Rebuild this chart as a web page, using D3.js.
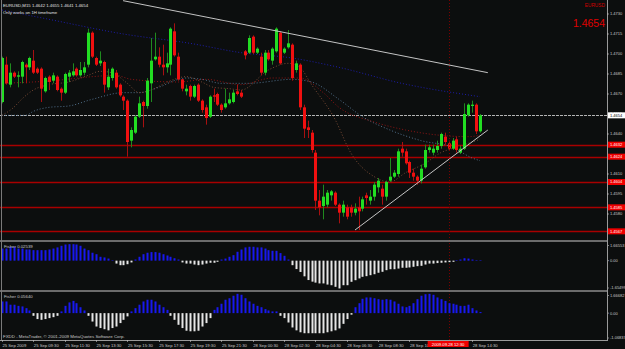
<!DOCTYPE html>
<html>
<head>
<meta charset="utf-8">
<script src="https://cdn.jsdelivr.net/npm/d3@7"></script>
<style>
  html, body { margin: 0; padding: 0; background: #0c0e0e; }
  svg { display: block; }
  text { font-family: "Liberation Sans", Arial, sans-serif; }
</style>
</head>
<body>
<svg width="625" height="349"></svg>
<script>
// котировки EURUSD M15, по одному значению на бар
const open = [1.4664,1.4692,1.4677,1.4686,1.4683,1.4683,1.4692,1.4690,1.4695,1.4689,
  1.4689,1.4672,1.4683,1.4680,1.4683,1.4674,1.4671,1.4683,1.4684,1.4689,
  1.4684,1.4686,1.4692,1.4716,1.4697,1.4693,1.4694,1.4675,1.4682,1.4686,
  1.4677,1.4668,1.4665,1.4635,1.4641,1.4653,1.4664,1.4661,1.4678,1.4696,
  1.4698,1.4692,1.4690,1.4692,1.4717,1.4698,1.4681,1.4672,1.4676,1.4668,
  1.4677,1.4665,1.4660,1.4653,1.4669,1.4670,1.4662,1.4660,1.4663,1.4664,
  1.4672,1.4671,1.4702,1.4701,1.4713,1.4701,1.4698,1.4686,1.4701,1.4695,
  1.4702,1.4716,1.4701,1.4705,1.4707,1.4688,1.4692,1.4660,1.4645,1.4641,
  1.4626,1.4590,1.4586,1.4587,1.4594,1.4596,1.4587,1.4581,1.4585,1.4585,
  1.4581,1.4585,1.4584,1.4594,1.4590,1.4593,1.4600,1.4599,1.4593,1.4605,
  1.4608,1.4610,1.4629,1.4627,1.4619,1.4611,1.4608,1.4605,1.4615,1.4628,
  1.4626,1.4628,1.4631,1.4638,1.4633,1.4629,1.4636,1.4626,1.4629,1.4654,
  1.4661,1.4662,1.4642];
const high = [1.4698,1.4698,1.4693,1.4687,1.4687,1.4695,1.4693,1.4698,1.4703,1.4690,
  1.4690,1.4683,1.4684,1.4686,1.4684,1.4675,1.4686,1.4688,1.4693,1.4690,
  1.4694,1.4694,1.4719,1.4717,1.4698,1.4702,1.4695,1.4689,1.4690,1.4688,
  1.4678,1.4669,1.4666,1.4645,1.4654,1.4668,1.4665,1.4682,1.4712,1.4716,
  1.4705,1.4707,1.4701,1.4720,1.4723,1.4701,1.4681,1.4677,1.4677,1.4677,
  1.4678,1.4666,1.4662,1.4669,1.4674,1.4671,1.4663,1.4674,1.4671,1.4673,
  1.4677,1.4673,1.4703,1.4714,1.4714,1.4705,1.4701,1.4703,1.4703,1.4705,
  1.4720,1.4717,1.4705,1.4718,1.4708,1.4695,1.4693,1.4662,1.4650,1.4643,
  1.4628,1.4598,1.4602,1.4598,1.4598,1.4597,1.4588,1.4590,1.4587,1.4587,
  1.4588,1.4593,1.4593,1.4596,1.4598,1.4604,1.4607,1.4602,1.4605,1.4622,
  1.4613,1.4629,1.4634,1.4629,1.4620,1.4614,1.4609,1.4617,1.4632,1.4632,
  1.4632,1.4635,1.4641,1.4641,1.4635,1.4637,1.4638,1.4631,1.4663,1.4663,
  1.4665,1.4663,1.4655];
const low = [1.4663,1.4677,1.4675,1.4682,1.4675,1.4678,1.4678,1.4688,1.4685,1.4685,
  1.4664,1.4671,1.4673,1.4678,1.4672,1.4665,1.4670,1.4679,1.4683,1.4683,
  1.4683,1.4684,1.4690,1.4697,1.4691,1.4691,1.4671,1.4673,1.4680,1.4674,
  1.4668,1.4658,1.4623,1.4630,1.4640,1.4652,1.4645,1.4659,1.4664,1.4695,
  1.4690,1.4684,1.4686,1.4684,1.4698,1.4680,1.4672,1.4669,1.4665,1.4667,
  1.4664,1.4656,1.4647,1.4652,1.4664,1.4661,1.4656,1.4659,1.4662,1.4663,
  1.4669,1.4667,1.4696,1.4700,1.4700,1.4700,1.4684,1.4684,1.4695,1.4692,
  1.4701,1.4692,1.4700,1.4704,1.4680,1.4686,1.4658,1.4637,1.4637,1.4626,
  1.4583,1.4579,1.4576,1.4585,1.4590,1.4586,1.4573,1.4578,1.4576,1.4578,
  1.4579,1.4568,1.4582,1.4587,1.4587,1.4590,1.4596,1.4587,1.4590,1.4604,
  1.4607,1.4608,1.4623,1.4617,1.4607,1.4605,1.4602,1.4603,1.4614,1.4626,
  1.4624,1.4626,1.4629,1.4632,1.4628,1.4628,1.4626,1.4625,1.4628,1.4653,
  1.4656,1.4640,1.4641];
const close = [1.4697,1.4678,1.4686,1.4683,1.4684,1.4694,1.4690,1.4697,1.4686,1.4686,
  1.4674,1.4682,1.4679,1.4684,1.4673,1.4671,1.4685,1.4686,1.4687,1.4684,
  1.4688,1.4690,1.4716,1.4698,1.4692,1.4695,1.4677,1.4683,1.4689,1.4675,
  1.4669,1.4665,1.4634,1.4643,1.4653,1.4663,1.4661,1.4680,1.4695,1.4698,
  1.4692,1.4690,1.4693,1.4719,1.4699,1.4681,1.4674,1.4674,1.4668,1.4676,
  1.4665,1.4658,1.4652,1.4668,1.4668,1.4662,1.4658,1.4663,1.4666,1.4671,
  1.4670,1.4668,1.4699,1.4712,1.4701,1.4704,1.4686,1.4701,1.4696,1.4704,
  1.4719,1.4693,1.4704,1.4708,1.4682,1.4693,1.4660,1.4644,1.4643,1.4628,
  1.4590,1.4585,1.4593,1.4596,1.4597,1.4587,1.4581,1.4587,1.4578,1.4581,
  1.4584,1.4582,1.4591,1.4592,1.4593,1.4602,1.4605,1.4593,1.4604,1.4608,
  1.4611,1.4627,1.4626,1.4618,1.4611,1.4608,1.4605,1.4614,1.4628,1.4630,
  1.4629,1.4631,1.4640,1.4634,1.4629,1.4635,1.4628,1.4629,1.4655,1.4662,
  1.4662,1.4642,1.4654];

// скользящие средние: [номер бара, цена]
const maBlue = [[0,1.4733],[12,1.4726],[31,1.4715],[48,1.4708],[61,1.4701],[74,1.4697],
  [86,1.4690],[102,1.4678],[122,1.4668]];
const maSteel = [[0,1.4654],[6,1.4654],[8,1.4657],[12,1.4660],[17,1.4661],[23,1.4666],
  [31,1.4671],[35,1.4671],[40,1.4675],[45,1.4681],[47,1.4682],[51,1.4681],[56,1.4678],
  [63,1.4678],[74,1.4681],[79,1.4679],[86,1.4666],[92,1.4653],[99,1.4643],[107,1.4635],
  [115,1.4630],[120,1.4622],[122,1.4620]];
const maRed = [[0,1.4678],[13,1.4680],[23,1.4683],[29,1.4684],[33,1.4681],[45,1.4679],
  [52,1.4681],[61,1.4677],[69,1.4682],[76,1.4682],[82,1.4671],[86,1.4660],[95,1.4649],
  [103,1.4643],[112,1.4639],[119,1.4638],[122,1.4639]];
const maBrown = [[0,1.4654],[3,1.4660],[5,1.4666],[8,1.4673],[12,1.4677],[17,1.4679],
  [22,1.4684],[25,1.4687],[28,1.4686],[32,1.4678],[35,1.4671],[38,1.4673],[43,1.4680],
  [47,1.4683],[51,1.4679],[54,1.4675],[58,1.4674],[61,1.4673],[68,1.4688],[73,1.4693],
  [76,1.4690],[79,1.4677],[85,1.4651],[89,1.4626],[95,1.4608],[99,1.4604],[103,1.4611],
  [108,1.4618],[112,1.4626],[116,1.4630],[122,1.4636]];

// трендовые линии
const trendDown = [[30.9,1.4740],[124,1.4686]];
const trendUp = [[90.1,1.4568],[124,1.4643]];

// горизонтальные уровни и их подписи
const levels = [1.4632,1.4623,1.4604,1.4585,1.4567];
const levelLabels = ["1.4632","1.4624","1.4604","1.4585","1.4567"];

// индикатор Fisher (два окна)
const fisher1 = [0.75,0.75,0.86,0.86,0.75,0.75,0.69,0.69,0.65,0.65,
  0.65,0.65,0.69,0.75,0.82,0.92,1.00,1.02,1.02,1.00,
  0.92,0.75,0.65,0.49,0.40,0.24,0.20,0.13,0.03,-0.18,
  -0.28,-0.28,-0.22,-0.11,0.07,0.24,0.40,0.49,0.53,0.53,
  0.49,0.40,0.32,0.24,0.15,0.07,-0.11,-0.18,-0.18,-0.24,
  -0.28,-0.24,-0.18,-0.13,-0.13,-0.07,0.07,0.13,0.24,0.34,
  0.55,0.69,0.82,0.86,0.86,0.82,0.82,0.75,0.65,0.61,
  0.61,0.47,0.30,0.07,-0.28,-0.52,-0.70,-0.97,-1.20,-1.30,
  -1.36,-1.41,-1.41,-1.48,-1.52,-1.62,-1.72,-1.52,-1.52,-1.31,
  -1.21,-1.10,-1.00,-0.96,-0.90,-0.84,-0.75,-0.69,-0.59,-0.53,
  -0.53,-0.49,-0.44,-0.44,-0.42,-0.38,-0.34,-0.32,-0.24,-0.18,
  -0.18,-0.15,-0.13,-0.11,-0.09,-0.07,0.03,0.07,0.15,0.13,
  0.07,0.03,0.025];
const fisher2 = [0.61,0.61,0.44,0.44,0.38,0.35,0.26,0.14,-0.14,-0.31,
  -0.35,-0.31,-0.26,-0.21,-0.14,0.09,0.38,0.56,0.64,0.52,
  0.31,0.14,-0.14,-0.44,-0.70,-0.78,-0.84,-0.90,-0.78,-0.70,
  -0.52,-0.35,-0.17,0.09,0.26,0.44,0.61,0.70,0.70,0.61,
  0.44,0.31,0.17,-0.14,-0.35,-0.61,-0.78,-0.92,-0.95,-0.95,
  -0.92,-0.70,-0.52,-0.26,0.17,0.31,0.49,0.70,0.78,0.91,
  1.01,0.96,0.78,0.61,0.49,0.38,0.31,0.21,0.14,0.09,
  0.09,-0.14,-0.26,-0.49,-0.75,-0.90,-1.00,-1.05,-1.05,-1.05,
  -1.05,-1.05,-1.05,-1.00,-0.95,-0.90,-0.80,-0.56,-0.31,-0.08,
  0.31,0.52,0.75,0.82,0.82,0.78,0.73,0.70,0.73,0.70,
  0.61,0.49,0.35,0.31,0.38,0.52,0.73,0.91,0.99,1.01,
  0.96,0.82,0.73,0.64,0.52,0.49,0.44,0.38,0.38,0.44,
  0.26,0.14,0.056];

// подписи осей
const priceTicks = [1.4730,1.4715,1.4700,1.4685,1.4670,1.4655,1.4640,1.4625,1.4610,1.4595,1.4580];
const timeLabels = [[0,"25 Sep 2009"],[8,"25 Sep 09:30"],[16,"25 Sep 11:30"],[24,"25 Sep 13:30"],
  [32,"25 Sep 15:30"],[40,"25 Sep 17:30"],[48,"25 Sep 19:30"],[56,"25 Sep 21:30"],
  [64,"28 Sep 00:30"],[72,"28 Sep 02:30"],[80,"28 Sep 04:30"],[88,"28 Sep 06:30"],
  [96,"28 Sep 08:30"],[104,"28 Sep 10:30"],[120,"28 Sep 14:30"]];
const markerBar = 114;
const markerText = "2009.09.28 12:30";

const svg = d3.select("svg");
const width = +svg.attr("width");
const height = +svg.attr("height");
const axisX = 607;      // правая ось цен
const bottom = 340;     // нижняя граница окон
const gray = "#c8c8c8";

const x = d3.scaleLinear().domain([0, 122]).range([2, 480]);
const y = d3.scaleLinear().domain([1.4580, 1.4730]).range([214, 14]);
const yF1 = d3.scaleLinear().domain([-1.6, 1.0]).range([286.5, 244.5]);
const yF2 = d3.scaleLinear().domain([-1.3, 1.0]).range([338, 294]);

svg.append("rect").attr("width", width).attr("height", height).attr("fill", "#0c0e0e");

const defs = svg.append("defs");
defs.append("clipPath").attr("id", "clipMain")
  .append("rect").attr("x", 0).attr("y", 0).attr("width", axisX).attr("height", 240);

const main = svg.append("g").attr("clip-path", "url(#clipMain)");

// горизонтальные уровни
main.selectAll(".level").data(levels).join("line")
  .attr("x1", 0).attr("x2", axisX)
  .attr("y1", d => Math.round(y(d)) + 0.5).attr("y2", d => Math.round(y(d)) + 0.5)
  .attr("stroke", "#a80000").attr("stroke-width", 1.3);

// линия bid
const bid = close[close.length - 1];
main.append("line")
  .attr("x1", 0).attr("x2", axisX)
  .attr("y1", Math.round(y(bid)) + 0.5).attr("y2", Math.round(y(bid)) + 0.5)
  .attr("stroke", "#b4b4b4").attr("stroke-dasharray", "3,1");

// вертикальный маркер времени
svg.append("line")
  .attr("x1", Math.round(x(markerBar)) + 0.5).attr("x2", Math.round(x(markerBar)) + 0.5)
  .attr("y1", 0).attr("y2", bottom)
  .attr("stroke", "#7a0000").attr("stroke-dasharray", "1,2");

// скользящие средние пунктиром
const maLine = d3.line()
  .x(d => x(d[0]))
  .y(d => y(d[1]))
  .curve(d3.curveMonotoneX);
[[maBlue, "#1c1ca8"], [maSteel, "#51708c"], [maRed, "#8c1414"], [maBrown, "#7a4a34"]]
  .forEach(([data, color]) => {
    main.append("path")
      .attr("d", maLine(data))
      .attr("fill", "none")
      .attr("stroke", color)
      .attr("stroke-width", 1)
      .attr("stroke-dasharray", "1,2");
  });

// свечи
const bars = d3.range(open.length).map(i => ({i: i, o: open[i], h: high[i], l: low[i], c: close[i]}));
main.selectAll(".wick").data(bars).join("line")
  .attr("x1", d => Math.round(x(d.i)) + 0.5).attr("x2", d => Math.round(x(d.i)) + 0.5)
  .attr("y1", d => y(d.h)).attr("y2", d => y(d.l))
  .attr("stroke", d => d.c >= d.o ? "#1f8a1f" : "#a81010");
main.selectAll(".body").data(bars).join("rect")
  .attr("x", d => Math.round(x(d.i)) - 1)
  .attr("width", 3)
  .attr("y", d => y(Math.max(d.o, d.c)))
  .attr("height", d => Math.max(1, Math.abs(y(d.o) - y(d.c))))
  .attr("fill", d => d.c >= d.o ? "#22dd22" : "#f01010");

// трендовые линии
[trendDown, trendUp].forEach(t => {
  main.append("line")
    .attr("x1", x(t[0][0])).attr("y1", y(t[0][1]))
    .attr("x2", x(t[1][0])).attr("y2", y(t[1][1]))
    .attr("stroke", "#c4c4c4").attr("stroke-width", 1);
});

// окна индикатора
function drawFisher(values, scale, title, labels, top) {
  svg.append("g").selectAll("rect").data(values).join("rect")
    .attr("x", (d, i) => Math.round(x(i)) - 0.5)
    .attr("width", 2)
    .attr("y", d => scale(Math.max(0, d)))
    .attr("height", d => Math.max(0.5, Math.abs(scale(d) - scale(0))))
    .attr("fill", d => d >= 0 ? "#1818f0" : "#e6e6e6");
  svg.append("text").attr("x", 4).attr("y", top + 6.5)
    .attr("font-size", 4.3).attr("fill", gray).text(title);
  const ys = [top + 4.5, scale(0), top + 47];
  labels.forEach((t, k) => {
    svg.append("line").attr("x1", axisX).attr("x2", axisX + 2)
      .attr("y1", ys[k]).attr("y2", ys[k]).attr("stroke", gray).attr("stroke-width", 0.6);
    svg.append("text").attr("x", axisX + 3).attr("y", ys[k]).attr("dy", "0.35em")
      .attr("font-size", 4).attr("fill", gray).text(t);
  });
}
drawFisher(fisher1, yF1, "Fisher 0.02539", ["1.66553", "0.00", "-1.65499"], 241);
drawFisher(fisher2, yF2, "Fisher 0.05640", ["1.66682", "0.00", "-1.06837"], 291);

// рамки окон
svg.append("line").attr("x1", 0).attr("x2", axisX).attr("y1", 241).attr("y2", 241)
  .attr("stroke", "#8c8c8c").attr("stroke-width", 1.5);
svg.append("line").attr("x1", 0).attr("x2", axisX).attr("y1", 291).attr("y2", 291)
  .attr("stroke", "#8c8c8c").attr("stroke-width", 1.5);
svg.append("line").attr("x1", 0).attr("x2", axisX + 1).attr("y1", bottom + 0.5).attr("y2", bottom + 0.5)
  .attr("stroke", "#9a9a9a");
svg.append("line").attr("x1", axisX + 0.5).attr("x2", axisX + 0.5).attr("y1", 0).attr("y2", bottom)
  .attr("stroke", "#9a9a9a");
svg.append("line").attr("x1", 1.5).attr("x2", 1.5).attr("y1", 0).attr("y2", bottom)
  .attr("stroke", "#7a7a7a");

// шкала цен (метка 1.4625 прячется под красным уровнем, как в терминале)
priceTicks.filter(p => levels.every(l => Math.abs(y(l) - y(p)) > 4.5)).forEach(p => {
  svg.append("line").attr("x1", axisX).attr("x2", axisX + 2)
    .attr("y1", y(p)).attr("y2", y(p)).attr("stroke", gray).attr("stroke-width", 0.6);
  svg.append("text").attr("x", axisX + 3).attr("y", y(p)).attr("dy", "0.35em")
    .attr("font-size", 4).attr("fill", gray).text(p.toFixed(4));
});
levels.forEach((p, k) => {
  svg.append("rect").attr("x", axisX + 1).attr("y", y(p) - 3)
    .attr("width", width - axisX - 1).attr("height", 6).attr("fill", "#f00000");
  svg.append("text").attr("x", axisX + 3).attr("y", y(p)).attr("dy", "0.35em")
    .attr("font-size", 4).attr("fill", "#ffffff").text(levelLabels[k]);
});
svg.append("rect").attr("x", axisX + 1).attr("y", y(bid) - 3)
  .attr("width", width - axisX - 1).attr("height", 6).attr("fill", "#ffffff");
svg.append("text").attr("x", axisX + 3).attr("y", y(bid)).attr("dy", "0.35em")
  .attr("font-size", 4).attr("fill", "#000000").text(bid.toFixed(4));

// шкала времени
const mx = x(markerBar);
timeLabels.forEach(([b, t]) => {
  svg.append("line").attr("x1", Math.round(x(b)) + 0.5).attr("x2", Math.round(x(b)) + 0.5)
    .attr("y1", bottom).attr("y2", bottom + 2).attr("stroke", gray).attr("stroke-width", 0.6);
  // подпись, заходящая под красную плашку, обрезается
  const label = x(b) + 26 > mx - 21 && x(b) < mx ? t.slice(0, 9) : t;
  svg.append("text").attr("x", x(b) + 0.5).attr("y", 346.5)
    .attr("font-size", 4.2).attr("fill", gray).text(label);
});
svg.append("rect").attr("x", mx - 21).attr("y", bottom + 1).attr("width", 41).attr("height", 6)
  .attr("fill", "#f00000");
svg.append("text").attr("x", mx - 0.5).attr("y", 346.3).attr("text-anchor", "middle")
  .attr("font-size", 4.2).attr("fill", "#ffffff").text(markerText);

// надписи
svg.append("text").attr("x", 3).attr("y", 7).attr("font-size", 4.3).attr("fill", "#e0e0e0")
  .text("EURUSD,M15  " + [open, high, low, close].map(a => a[a.length - 1].toFixed(4)).join(" "));
svg.append("text").attr("x", 3).attr("y", 13.5).attr("font-size", 4.3).attr("fill", "#e0e0e0")
  .text("Only works on 1H timeframe");
svg.append("text").attr("x", 605).attr("y", 7).attr("text-anchor", "end")
  .attr("font-size", 4.8).attr("fill", "#d00000").text("EURUSD");
svg.append("text").attr("x", 605).attr("y", 27).attr("text-anchor", "end")
  .attr("font-size", 10.5).attr("fill", "#e00000").text(bid.toFixed(4));
svg.append("text").attr("x", 3).attr("y", 338).attr("font-size", 4.4).attr("fill", gray)
  .text("FXDD - MetaTrader, \u00a9 2001-2009 MetaQuotes Software Corp.");
</script>
</body>
</html>
